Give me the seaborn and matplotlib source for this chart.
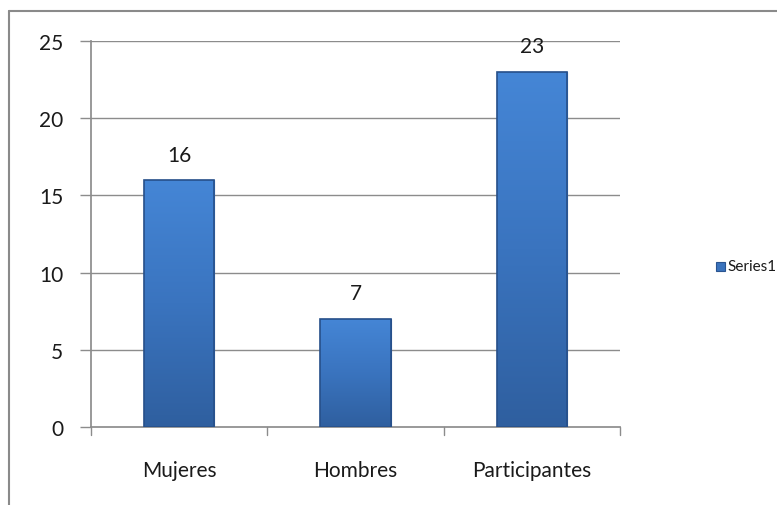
import matplotlib
matplotlib.use("Agg")
import matplotlib.pyplot as plt
import seaborn as sns
import numpy as np
import pandas as pd
from matplotlib.patches import Rectangle
from matplotlib.lines import Line2D
from matplotlib.colors import LinearSegmentedColormap

categories = ["Mujeres", "Hombres", "Participantes"]
values = [16, 7, 23]
series_name = "Series1"
yticks = [0, 5, 10, 15, 20, 25]

sns.set_theme(style="white")
plt.rcParams['font.family'] = ['Lato', 'DejaVu Sans']

df = pd.DataFrame({"cat": categories, "val": values})

fig = plt.figure(figsize=(7.77, 5.06), dpi=100)
ax = fig.add_axes([91/777, 78/506, (620-91)/777, (428-42)/506])

sns.barplot(data=df, x="cat", y="val", ax=ax, color="#3a73bd", width=0.4,
            edgecolor="#2a5490", linewidth=0.8, zorder=3)

ax.set_ylim(0, 25)
ax.set_xlim(-0.5, 2.5)
ax.set_yticks(yticks)
ax.set_yticklabels([str(t) for t in yticks], fontsize=15, color="#1a1a1a")
ax.set_xticks([0, 1, 2])
ax.set_xticklabels(categories, fontsize=15, color="#1a1a1a")
ax.set_xlabel("")
ax.set_ylabel("")

for t in yticks[1:]:
    ax.axhline(t, color="#8c8c8c", lw=1.0, zorder=1)

for s in ["top", "right"]:
    ax.spines[s].set_visible(False)
ax.spines["left"].set_color("#8c8c8c")
ax.spines["bottom"].set_color("#8c8c8c")
ax.tick_params(axis="y", length=8, width=1, color="#8c8c8c", pad=12, left=True)
ax.tick_params(axis="x", length=0, pad=24, bottom=True)
for xb in [-0.5, 0.5, 1.5, 2.5]:
    ax.plot([xb, xb], [0, -0.52], color="#8c8c8c", lw=1, clip_on=False, zorder=2)

grad = np.linspace(0, 1, 256).reshape(-1, 1)
cmap = LinearSegmentedColormap.from_list("b", ["#2f5f9f", "#3a74bf", "#4586d6"])
for p in list(ax.patches):
    x0, y0 = p.get_x(), p.get_y()
    w, h = p.get_width(), p.get_height()
    im = ax.imshow(grad, extent=(x0, x0 + w, y0, y0 + h), origin="lower",
                   cmap=cmap, aspect="auto", zorder=3.5)
    im.set_clip_path(p)
    ax.add_patch(Rectangle((x0, y0), w, h, fill=False, edgecolor="#27508a",
                           lw=1.2, zorder=4))
    ax.text(x0 + w / 2, y0 + h + 1.0, f"{int(h)}", ha="center", va="bottom",
            fontsize=15, color="#1a1a1a", zorder=5)
ax.set_xlim(-0.5, 2.5)
ax.set_ylim(0, 25)

# legend (manual, to fit at the right edge)
fig.add_artist(Rectangle((716/777, 1 - 272/506), 9/777, 9/506,
                         facecolor="#3a73bd", edgecolor="#2a5490", lw=0.8,
                         transform=fig.transFigure))
fig.text(727/777, 1 - 267/506, series_name, ha="left", va="center",
         fontsize=11, color="#1a1a1a")

fig.add_artist(Line2D([9/777, 9/777], [0, 1 - 12/506], color="#8a8a8a", lw=1.5))
fig.add_artist(Line2D([9/777, 1], [1 - 12/506, 1 - 12/506], color="#8a8a8a", lw=1.5))

fig.savefig("out.png", dpi=100)
